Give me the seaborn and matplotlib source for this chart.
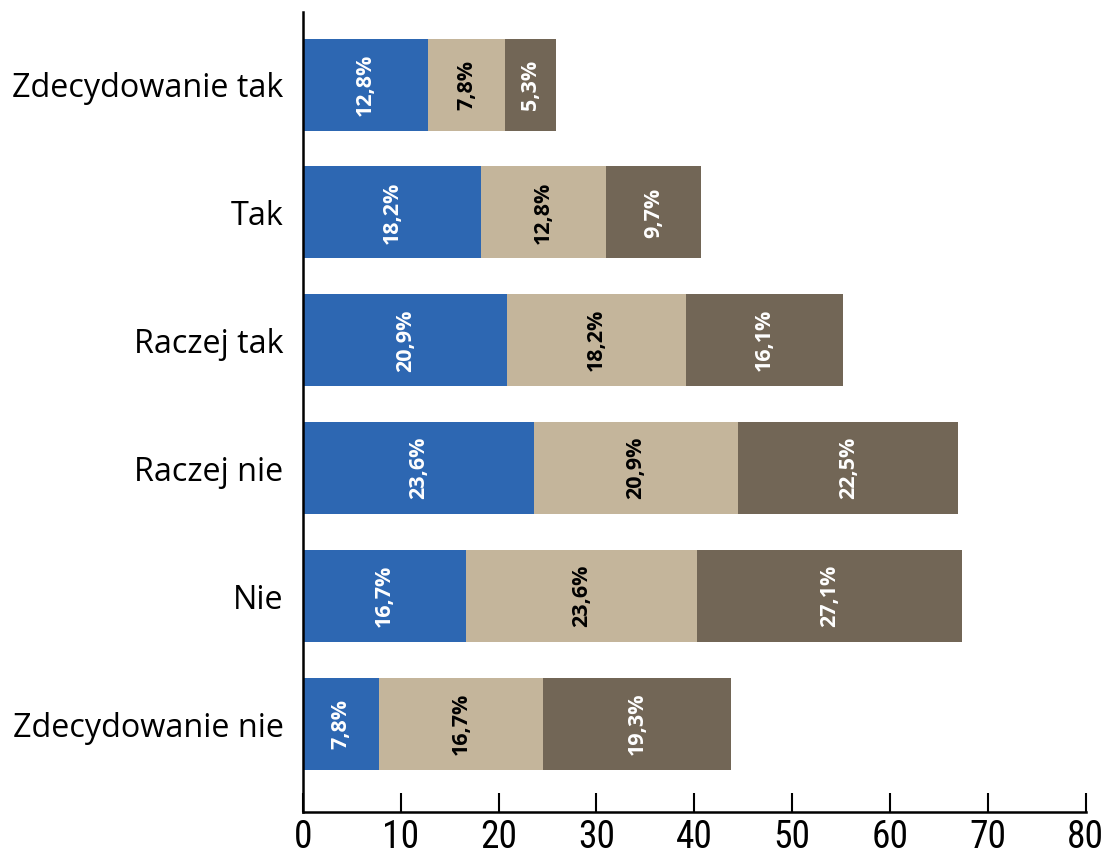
import matplotlib
matplotlib.use("Agg")
import matplotlib.pyplot as plt
from matplotlib import font_manager
import seaborn as sns
import pandas as pd
import numpy as np

categories = ["Zdecydowanie tak", "Tak", "Raczej tak", "Raczej nie", "Nie", "Zdecydowanie nie"]
series_a = [12.8, 18.2, 20.9, 23.6, 16.7, 7.8]
series_b = [7.8, 12.8, 18.2, 20.9, 23.6, 16.7]
series_c = [5.3, 9.7, 16.1, 22.5, 27.1, 19.3]
x_ticks = [0, 10, 20, 30, 40, 50, 60, 70, 80]

colors = ["#2d67b2", "#c4b59b", "#726656"]
text_colors = ["white", "black", "white"]

sns.set_style("white")
plt.rcParams["font.family"] = ["Open Sans", "DejaVu Sans"]
plt.rcParams["text.color"] = "black"
plt.rcParams["xtick.color"] = "black"
plt.rcParams["ytick.color"] = "black"

# Pick a narrow face for the numeric axis if one is present
names = {f.name for f in font_manager.fontManager.ttflist}
narrow = [n for n in ["Liberation Sans Narrow", "Roboto Condensed", "Open Sans Condensed"] if n in names]
tick_family = narrow + ["DejaVu Sans"]

df = pd.DataFrame({"cat": categories, "a": series_a, "b": series_b, "c": series_c})
df["ab"] = df["a"] + df["b"]
df["abc"] = df["ab"] + df["c"]

fig = plt.figure(figsize=(11.1, 8.56), dpi=100)
ax = fig.add_axes([0.273, 0.0514, 0.705, 0.935])

# Stacked bars: draw cumulative totals back to front
for col, color in zip(["abc", "ab", "a"], colors[::-1]):
    sns.barplot(data=df, x=col, y="cat", orient="h", color=color,
                width=0.72, ax=ax, saturation=1, linewidth=0, order=categories)

# Segment value labels, rotated
starts = [np.zeros(len(categories)), df["a"].values, df["ab"].values]
for vals, start, tc in zip([series_a, series_b, series_c], starts, text_colors):
    for i, (v, s) in enumerate(zip(vals, start)):
        ax.text(s + v / 2, i, f"{v:.1f}".replace(".", ",") + "%",
                rotation=90, ha="center", va="center", color=tc,
                fontsize=15.5, fontweight="bold")

ax.set_xlim(0, 80)
ax.set_ylim(5 + 0.6875, -0.57)
ax.set_xticks(x_ticks)
ax.set_xticklabels([str(t) for t in x_ticks], family=tick_family,
                   fontstretch="condensed", fontsize=27, color="black")
ax.set_xlabel("")
ax.set_ylabel("")
ax.tick_params(axis="x", bottom=True, direction="in", length=14, width=1.5,
               color="black", pad=5)
ax.tick_params(axis="y", left=False, length=0, labelsize=23.3, pad=14, labelcolor="black")

for side in ["top", "right"]:
    ax.spines[side].set_visible(False)
for side in ["left", "bottom"]:
    ax.spines[side].set_color("black")
    ax.spines[side].set_linewidth(1.8)

fig.savefig("out.png", dpi=100, facecolor="white")
